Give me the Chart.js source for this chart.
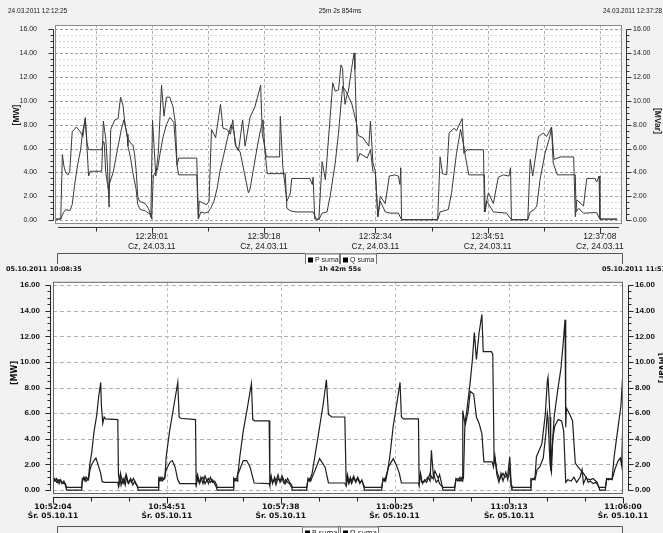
<!DOCTYPE html>
<html><head><meta charset="utf-8">
<script src="https://cdn.jsdelivr.net/npm/chart.js@4/dist/chart.umd.min.js"></script>
<style>
html,body{margin:0;padding:0;background:#f2f2f2;}
#wrap{position:relative;width:663px;height:533px;overflow:hidden;background:#f2f2f2;}
canvas{position:absolute;left:0;display:block;}
#c1{top:0;} #c2{top:264px;}
</style></head><body>
<div id="wrap"><canvas id="c1" width="663" height="264"></canvas><canvas id="c2" width="663" height="269"></canvas></div>
<script>
// ---------- DATA ----------
const legendLabels = ['P suma', 'Q suma'];
const axisTitles = ['[MW]', '[MVar]'];
const yTickValues = [0, 2, 4, 6, 8, 10, 12, 14, 16];
const yMinorStep = 0.5;

const topHeader = ['24.03.2011 12:12:25', '25m 2s 854ms', '24.03.2011 12:37:28'];
const topStart = '12:26:03', topEnd = '12:37:35';
const topTickTimes = ['12:28:01', '12:30:18', '12:32:34', '12:34:51', '12:37:08'];
const topTickDate = 'Cz, 24.03.11';

const bottomHeader = ['05.10.2011 10:08:35', '1h 42m 55s', '05.10.2011 11:51:30'];
const bottomStart = '10:52:04', bottomEnd = '11:06:00';
const bottomTickTimes = ['10:52:04', '10:54:51', '10:57:38', '11:00:25', '11:03:13', '11:06:00'];
const bottomTickDate = 'Śr. 05.10.11';

// [seconds since start, value]
const topP = [[1,0.1],[7,0.1],[9,5.5],[11,4.5],[13,4.0],[16,3.8],[18,4.1],[21,7.4],[26,7.8],[31,7.4],[34,7.0],[37,8.6],[41,3.7],[43,4.1],[57,4.1],[59,8.3],[62,6.8],[64,4.5],[66,1.1],[68,7.6],[73,8.4],[77,8.5],[80,10.3],[83,9.6],[85,8.3],[88,7.0],[90,6.7],[93,6.4],[95,6.3],[97,5.6],[99,4.2],[101,2.0],[103,1.6],[110,1.4],[114,1.0],[116,0.6],[117,0.3],[119,8.4],[123,3.7],[126,5.6],[130,11.3],[133,8.7],[136,10.3],[140,10.3],[144,9.5],[147,8.1],[149,4.6],[151,5.2],[173,5.2],[175,0.1],[176,1.6],[185,1.3],[188,1.6],[191,7.6],[196,6.9],[202,9.7],[205,7.7],[210,7.6],[214,7.2],[217,8.4],[220,6.3],[224,5.8],[229,8.4],[232,6.2],[238,8.6],[244,9.5],[251,11.3],[253,7.2],[255,6.5],[258,5.3],[274,5.3],[275,8.7],[278,4.5],[283,1.6],[287,2.2],[289,3.5],[297,3.5],[311,3.5],[314,3.0],[315,3.6],[317,0.1],[322,0.1],[326,4.9],[330,3.4],[339,11.5],[342,10.8],[346,10.9],[349,13.0],[351,12.7],[352,11.2],[354,9.7],[356,10.4],[358,10.8],[362,12.7],[365,14.0],[366,12.6],[368,8.1],[370,7.1],[376,6.9],[383,6.2],[385,8.3],[388,4.8],[391,4.1],[394,0.3],[397,2.0],[403,1.4],[408,3.7],[415,3.8],[419,3.7],[421,3.0],[422,4.4],[423,0.05],[467,0.05],[470,5.3],[473,3.9],[478,3.8],[481,7.3],[487,7.7],[490,7.5],[497,8.5],[499,5.6],[503,5.9],[523,5.9],[524,0.7],[529,2.3],[535,1.4],[541,3.6],[547,3.8],[554,3.7],[556,4.4],[557,0.05],[577,0.05],[580,5.1],[583,3.7],[590,7.0],[596,7.3],[600,7.0],[606,7.8],[609,5.1],[617,5.3],[633,5.3],[635,0.3],[637,1.7],[645,1.2],[649,3.5],[659,3.5],[661,3.2],[664,3.7],[665,0.1],[686,0.1]];

const topQ = [[1,0.1],[7,0.1],[10,0.6],[13,0.9],[18,0.8],[21,1.3],[24,3.0],[28,4.8],[31,5.8],[34,7.5],[37,8.5],[39,6.5],[41,5.9],[57,5.9],[59,6.6],[60,6.5],[62,4.0],[65,2.6],[67,3.2],[71,4.0],[74,5.1],[77,6.2],[81,7.6],[84,8.4],[88,7.2],[89,6.2],[92,5.3],[95,4.0],[99,2.6],[101,1.3],[104,0.9],[110,0.8],[116,0.5],[118,0.1],[120,3.7],[122,4.0],[125,4.2],[128,5.5],[132,7.0],[136,8.0],[140,8.6],[145,8.2],[149,4.6],[151,3.8],[173,3.8],[175,0.1],[178,0.7],[183,0.6],[187,0.7],[190,1.0],[194,1.6],[198,2.7],[201,4.0],[206,5.5],[211,7.0],[215,8.0],[218,7.5],[221,6.2],[226,5.7],[231,4.0],[236,2.3],[238,2.6],[243,4.6],[247,6.2],[250,7.3],[254,8.4],[256,6.0],[259,3.9],[281,3.9],[283,1.0],[287,0.8],[293,0.7],[315,0.7],[319,0.1],[322,0.05],[326,0.6],[332,0.7],[336,2.1],[342,4.8],[346,7.3],[351,11.2],[355,10.8],[362,9.8],[368,8.1],[369,4.9],[372,5.6],[381,5.2],[385,5.9],[388,4.1],[391,3.9],[394,0.3],[397,1.6],[403,0.7],[409,0.6],[419,0.6],[423,0.05],[467,0.05],[470,0.7],[480,0.9],[484,2.3],[490,5.6],[495,7.6],[499,6.2],[501,5.3],[505,3.8],[524,3.8],[525,0.7],[527,1.6],[535,0.7],[551,0.6],[557,0.05],[577,0.05],[580,0.7],[585,0.9],[588,1.2],[592,3.4],[598,5.6],[604,7.0],[606,7.8],[608,4.8],[613,3.8],[635,3.8],[636,0.7],[639,1.0],[645,0.6],[661,0.65],[665,0.1],[686,0.1]];

const bottomP = [[0,0.8],[2,0.7],[5,0.9],[7,0.6],[9,0.8],[11,0.7],[13,0.5],[16,0.7],[18,0.4],[20,0.0],[42,0.0],[43,0.9],[45,0.8],[47,1.0],[49,0.7],[52,0.9],[54,2.0],[57,3.0],[60,4.5],[64,5.8],[67,7.3],[70,8.4],[71,6.6],[73,5.2],[75,5.7],[77,5.55],[95,5.5],[96,1.2],[98,0.5],[99,1.3],[102,0.6],[104,0.9],[106,0.4],[108,1.1],[110,0.6],[113,0.8],[115,0.6],[118,0.9],[121,0.5],[124,0.3],[125,0.0],[154,0.0],[155,0.9],[157,0.7],[160,1.0],[162,0.8],[164,0.9],[166,2.6],[171,4.6],[177,6.5],[183,8.4],[185,5.7],[187,5.6],[209,5.5],[210,0.5],[212,1.2],[215,0.6],[217,1.0],[220,0.5],[223,1.1],[226,0.7],[228,0.9],[231,0.6],[234,0.8],[237,0.5],[239,0.3],[241,0.0],[264,0.0],[265,0.9],[267,0.7],[270,1.0],[272,1.6],[274,2.6],[279,4.6],[285,6.4],[291,8.3],[293,5.5],[296,5.4],[317,5.4],[318,0.5],[320,1.1],[322,0.5],[325,1.0],[327,0.7],[330,1.2],[333,0.6],[336,0.9],[339,0.5],[341,0.8],[344,0.6],[347,0.5],[350,0.2],[351,0.0],[372,0.0],[374,0.9],[376,0.7],[378,1.0],[380,1.3],[384,2.6],[390,4.6],[396,6.6],[401,8.6],[404,5.9],[409,5.7],[428,5.7],[430,0.5],[432,1.2],[434,0.6],[436,1.0],[438,0.7],[441,1.1],[444,0.6],[447,0.9],[450,0.5],[453,0.8],[455,0.4],[457,0.0],[482,0.0],[484,0.9],[486,0.7],[488,1.0],[491,1.6],[494,2.6],[499,5.0],[505,7.0],[509,8.4],[511,5.7],[514,5.55],[536,5.55],[537,0.5],[539,1.3],[541,0.6],[545,0.65],[550,1.0],[553,0.7],[555,3.1],[558,1.0],[560,1.5],[565,0.9],[567,1.2],[570,0.5],[572,0.0],[589,0.0],[591,0.9],[594,0.7],[597,1.0],[600,0.7],[601,6.2],[604,5.2],[607,6.2],[612,8.5],[615,10.1],[618,12.3],[621,10.2],[625,12.3],[629,13.7],[631,10.8],[643,10.8],[645,10.6],[647,2.1],[648,2.6],[651,1.5],[655,0.8],[660,1.3],[663,1.0],[667,1.2],[670,2.6],[672,0.4],[673,0.0],[700,0.0],[701,0.9],[704,0.8],[707,1.0],[709,2.6],[717,3.6],[722,5.9],[725,8.5],[726,8.8],[729,5.7],[730,1.5],[735,5.7],[740,7.7],[745,9.5],[748,11.3],[751,13.3],[752,4.9],[753,6.4],[758,5.9],[762,5.4],[766,2.1],[770,1.8],[778,1.3],[783,0.9],[788,0.8],[792,0.9],[798,0.6],[800,0.3],[802,0.0],[810,0.0],[812,0.9],[815,0.8],[820,0.9],[823,2.6],[828,4.6],[833,6.6],[836,9.3]];

const bottomQ = [[0,0.7],[2,0.9],[5,0.6],[7,0.8],[9,0.5],[11,0.8],[13,0.6],[16,0.5],[18,0.5],[20,0.2],[42,0.2],[43,0.7],[45,1.0],[47,0.7],[49,1.0],[52,0.8],[54,1.5],[56,1.9],[60,2.3],[63,2.5],[66,2.0],[70,1.3],[72,0.65],[76,0.6],[95,0.6],[96,0.3],[98,1.0],[100,0.4],[102,0.8],[104,0.5],[107,1.2],[109,0.7],[111,0.5],[114,0.9],[117,0.4],[120,0.7],[122,0.5],[124,0.2],[154,0.2],[155,0.7],[157,1.0],[160,0.7],[162,0.9],[164,1.0],[166,1.6],[172,2.2],[175,2.3],[179,1.8],[183,0.8],[186,0.5],[209,0.5],[210,0.3],[212,0.9],[215,0.5],[217,0.8],[220,1.0],[223,0.5],[226,0.8],[228,0.5],[231,1.0],[234,0.6],[237,0.7],[240,0.4],[241,0.2],[264,0.2],[265,0.8],[267,0.9],[270,0.7],[271,1.2],[274,1.6],[279,2.3],[284,2.3],[289,1.8],[295,0.55],[317,0.5],[318,0.3],[320,1.0],[322,0.6],[325,0.8],[327,0.4],[330,0.9],[333,0.7],[336,1.1],[339,0.7],[341,0.5],[344,0.9],[347,0.6],[350,0.4],[351,0.2],[372,0.2],[374,0.8],[376,0.9],[378,0.7],[380,1.0],[384,1.5],[391,2.45],[399,1.8],[404,0.55],[428,0.55],[430,0.3],[432,0.9],[434,0.5],[436,0.8],[438,0.5],[441,0.9],[444,0.7],[447,1.0],[450,0.6],[453,0.7],[455,0.5],[457,0.2],[482,0.2],[484,0.8],[486,0.9],[488,0.7],[492,1.8],[499,2.45],[504,1.9],[508,1.3],[511,0.55],[536,0.55],[537,0.3],[539,1.2],[542,0.5],[545,0.8],[548,0.6],[553,1.3],[556,0.9],[559,1.1],[562,0.6],[565,0.8],[567,0.5],[570,0.3],[572,0.2],[589,0.2],[591,0.8],[594,0.9],[597,0.7],[600,1.0],[602,0.9],[604,4.9],[609,6.2],[612,7.7],[617,7.5],[621,5.7],[625,5.2],[629,4.4],[632,2.2],[644,2.2],[646,1.8],[648,2.7],[651,1.2],[654,0.6],[657,1.3],[660,0.7],[664,1.4],[667,0.8],[670,1.7],[672,0.3],[673,0.2],[700,0.2],[701,0.7],[704,0.9],[707,0.8],[710,1.6],[714,1.8],[719,2.5],[723,4.5],[725,6.0],[726,5.6],[729,2.0],[731,1.4],[733,4.0],[736,5.0],[741,5.5],[746,5.4],[749,4.6],[752,0.6],[755,0.8],[760,0.7],[764,1.0],[768,0.6],[773,1.0],[776,1.6],[778,0.5],[782,1.0],[785,0.6],[788,0.7],[792,0.5],[796,0.6],[799,0.4],[801,0.2],[810,0.2],[812,0.8],[815,0.9],[820,0.8],[824,1.6],[829,2.3],[832,2.5],[834,1.9],[836,5.8]];

// ---------- HELPERS ----------
function sec(s) { const [h, m, x] = s.split(':').map(Number); return h * 3600 + m * 60 + x; }
const px = v => Math.round(v) + 0.5;
function hline(c, x1, x2, y) { c.beginPath(); c.moveTo(x1, y); c.lineTo(x2, y); c.stroke(); }
function vline(c, x, y1, y2) { c.beginPath(); c.moveTo(x, y1); c.lineTo(x, y2); c.stroke(); }

function deco(o, xMajor, xMinor) {
  return {
    id: 'deco',
    beforeDraw(chart) {
      const c = chart.ctx, a = chart.chartArea, xs = chart.scales.x, ys = chart.scales.y;
      c.save();
      c.fillStyle = o.bg; c.fillRect(0, 0, chart.width, chart.height);
      c.fillStyle = '#ffffff'; c.fillRect(a.left, a.top, a.right - a.left, a.bottom - a.top);
      c.lineWidth = 1;
      if (o.minorGrid) {
        c.strokeStyle = o.minorGrid; c.setLineDash([2, 2]);
        for (let v = yTickValues[0]; v <= yTickValues[yTickValues.length - 1]; v += yMinorStep) {
          if (yTickValues.includes(v)) continue;
          hline(c, a.left, a.right, px(ys.getPixelForValue(v)));
        }
      }
      c.strokeStyle = o.majorGrid; c.setLineDash(o.majorDash);
      yTickValues.forEach(v => hline(c, a.left, a.right, px(ys.getPixelForValue(v))));
      c.strokeStyle = o.vGrid; c.setLineDash([3, 3]);
      const vg = o.vGridAll ? xMajor.concat(xMinor) : xMajor;
      vg.forEach(t => { const x = xs.getPixelForValue(t); if (x > a.left + 2 && x < a.right - 2) vline(c, px(x), a.top, a.bottom); });
      c.restore();
    },
    afterDraw(chart) {
      const c = chart.ctx, a = chart.chartArea, xs = chart.scales.x, ys = chart.scales.y;
      c.save();
      c.lineWidth = 1; c.setLineDash([]);
      c.strokeStyle = o.boxColor;
      c.strokeRect(a.left + 0.5, a.top + 0.5, a.right - a.left - 1, a.bottom - a.top - 1);
      c.strokeStyle = o.axisColor;
      const yb = ys.getPixelForValue(yTickValues[0]), yt = ys.getPixelForValue(yTickValues[yTickValues.length - 1]);
      const xl = px(a.left - o.gapL), xr = px(a.right + o.gapR);
      vline(c, xl, px(yt), px(yb)); vline(c, xr, px(yt), px(yb));
      for (let v = yTickValues[0]; v <= yTickValues[yTickValues.length - 1]; v += yMinorStep) {
        const y = px(ys.getPixelForValue(v)); const len = yTickValues.includes(v) ? 5 : 3;
        hline(c, xl - len, xl, y); hline(c, xr, xr + len, y);
      }
      const xy = px(a.bottom + o.gapB);
      hline(c, a.left + o.xInset, a.right - o.xInset, xy);
      xMajor.forEach(t => vline(c, px(xs.getPixelForValue(t)), xy, xy + 6));
      xMinor.forEach(t => vline(c, px(xs.getPixelForValue(t)), xy, xy + 4));
      // axis titles
      c.fillStyle = o.text; c.font = o.titleFont; c.textAlign = 'center'; c.textBaseline = 'middle';
      c.save(); c.translate(o.titleL[0], o.titleL[1]); c.rotate(-Math.PI / 2); c.fillText(axisTitles[0], 0, 0); c.restore();
      c.save(); c.translate(o.titleR[0], o.titleR[1]); c.rotate(Math.PI / 2); c.fillText(axisTitles[1], 0, 0); c.restore();
      // header
      c.font = o.headerFont;
      c.textAlign = 'left'; c.fillText(o.header[0], o.headerX[0], o.headerY);
      c.textAlign = 'center'; c.fillText(o.header[1], o.headerX[1], o.headerY);
      c.textAlign = 'left'; c.fillText(o.header[2], o.headerX[2], o.headerY);
      // legend frame
      const ly = px(o.legendY);
      c.strokeStyle = '#555';
      c.beginPath();
      c.moveTo(px(o.legendX[0]), chart.height); c.lineTo(px(o.legendX[0]), ly);
      c.lineTo(px(o.legendX[1]), ly); c.lineTo(px(o.legendX[1]), chart.height); c.stroke();
      legendLabels.forEach((lab, i) => {
        const bx = o.legendItemX[i], bw = o.legendItemW[i];
        c.fillStyle = '#ffffff'; c.fillRect(bx, ly, bw, 13);
        c.strokeStyle = '#777'; c.strokeRect(bx + 0.5, ly + 0.5, bw, 13);
        c.fillStyle = '#000'; c.fillRect(bx + 3, ly + 4, 5, 5);
        c.font = o.legendFont; c.textAlign = 'left'; c.textBaseline = 'middle';
        c.fillStyle = o.text; c.fillText(lab, bx + 10, ly + 7);
      });
      c.restore();
    }
  };
}

function makePanel(o) {
  const t0 = sec(o.start);
  const xMax = sec(o.end) - t0;
  const xMajor = o.ticks.map(s => sec(s) - t0);
  const step = (xMajor[xMajor.length - 1] - xMajor[0]) / (xMajor.length - 1);
  let xMinor = [];
  if (o.minorPerMajor === 1) {
    xMinor = xMajor.map(m => m - step / 2).filter(v => v > 0);
  } else {
    for (let i = 0; i < xMajor.length - 1; i++)
      for (let k = 1; k <= o.minorPerMajor; k++) xMinor.push(xMajor[i] + step * k / (o.minorPerMajor + 1));
  }
  const ds = (lab, arr) => ({
    label: lab, data: arr.map(([x, y]) => ({ x, y })),
    borderColor: o.lineColor, borderWidth: o.lineWidth, pointRadius: 0, tension: 0, fill: false
  });
  const yScale = (pos, width, pad) => ({
    type: 'linear', position: pos, min: o.yMin, max: o.yMax,
    afterFit(s) { s.width = width; },
    afterBuildTicks(s) { s.ticks = yTickValues.map(v => ({ value: v })); },
    ticks: { padding: pad, font: o.yFont, color: o.text, callback: v => Number(v).toFixed(2) },
    grid: { display: false, drawTicks: false }, border: { display: false }
  });
  new Chart(document.getElementById(o.canvas), {
    type: 'line',
    data: { datasets: [ds(legendLabels[0], o.p), ds(legendLabels[1], o.q)] },
    options: {
      responsive: false, animation: false, devicePixelRatio: 1,
      layout: { padding: { top: o.area.top, left: 0, right: 0, bottom: 0 } },
      plugins: { legend: { display: false }, tooltip: { enabled: false } },
      scales: {
        x: {
          type: 'linear', position: 'bottom', min: 0, max: xMax,
          afterFit(s) { s.height = o.height - o.area.bottom; },
          afterBuildTicks(s) { s.ticks = xMajor.map(v => ({ value: v })); },
          ticks: { autoSkip: false, maxRotation: 0, minRotation: 0, padding: o.xPad, font: o.xFont, color: o.text,
                   callback: (v, i) => [o.ticks[i], o.date] },
          grid: { display: false, drawTicks: false }, border: { display: false }
        },
        y: yScale('left', o.area.left, o.yPadL),
        y2: yScale('right', 663 - o.area.right, o.yPadR)
      }
    },
    plugins: [deco(o, xMajor, xMinor)]
  });
}

makePanel({
  canvas: 'c1', height: 264, area: { left: 55, right: 622, top: 25, bottom: 224 },
  yMin: -0.31, yMax: 16.335, start: topStart, end: topEnd, ticks: topTickTimes, date: topTickDate,
  p: topP, q: topQ, minorPerMajor: 1, vGridAll: true,
  bg: '#f2f2f2', text: '#1a1a1a', lineColor: '#3a3a3a', lineWidth: 1,
  minorGrid: '#d8d8d8', majorGrid: '#a0a0a0', majorDash: [3, 2], vGrid: '#b4b4b4',
  boxColor: '#8c8c8c', axisColor: '#333',
  gapL: 2, gapR: 4, gapB: 3, xInset: 3,
  xFont: { family: 'Liberation Sans', size: 8.5, lineHeight: 1.15 }, xPad: 8,
  yFont: { family: 'Liberation Sans', size: 7 }, yPadL: 18, yPadR: 11,
  titleFont: 'bold 8.5px "Liberation Sans"', titleL: [17, 115], titleR: [657, 121],
  header: topHeader, headerFont: '6.5px "Liberation Sans"', headerX: [8, 340, 603], headerY: 11,
  legendY: 253, legendX: [57, 622], legendItemX: [305, 340], legendItemW: [34, 36],
  legendFont: '7px "Liberation Sans"'
});

makePanel({
  canvas: 'c2', height: 269, area: { left: 53, right: 623, top: 16, bottom: 230 },
  yMin: -0.31, yMax: 16.255, start: bottomStart, end: bottomEnd, ticks: bottomTickTimes, date: bottomTickDate,
  p: bottomP, q: bottomQ, minorPerMajor: 2, vGridAll: false,
  bg: '#f2f2f2', text: '#111', lineColor: '#1e1e1e', lineWidth: 1.2,
  minorGrid: null, majorGrid: '#b0b0b0', majorDash: [4, 3], vGrid: '#b8b8b8',
  boxColor: '#666', axisColor: '#222',
  gapL: 3, gapR: 5, gapB: 3, xInset: 0,
  xFont: { family: 'DejaVu Sans', size: 7.5, weight: 'bold', lineHeight: 1.25 }, xPad: 8,
  yFont: { family: 'Liberation Sans', size: 8, weight: 'bold' }, yPadL: 13, yPadR: 12,
  titleFont: 'bold 8px "DejaVu Sans"', titleL: [15, 109], titleR: [661, 104],
  header: bottomHeader, headerFont: 'bold 6.5px "DejaVu Sans"', headerX: [6, 340, 602], headerY: 5,
  legendY: 262, legendX: [57, 622], legendItemX: [302, 340], legendItemW: [36, 38],
  legendFont: '7px "DejaVu Sans"'
});
</script>
</body></html>
